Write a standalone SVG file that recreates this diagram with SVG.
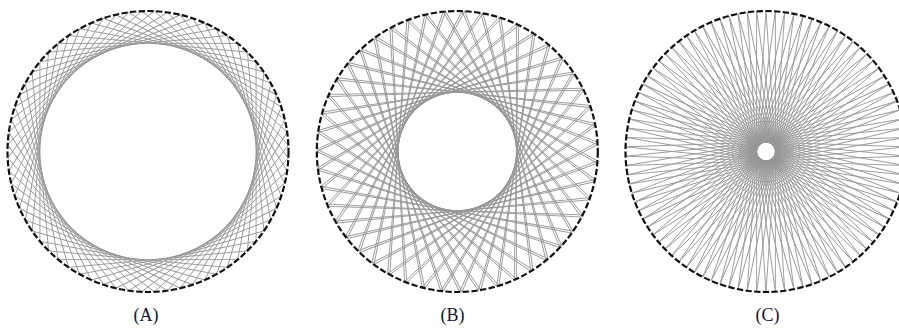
<svg xmlns="http://www.w3.org/2000/svg" width="899" height="329" viewBox="0 0 899 329">
<style>
.chord{stroke:#979797;stroke-width:0.9;fill:none}
.rim{fill:none;stroke:#111;stroke-width:2.2;stroke-dasharray:6.3 2.4}
.lbl{font-family:"Liberation Serif","Times New Roman",serif;font-size:18px;fill:#14142e;text-anchor:middle}
</style>
<defs>
<line id="chA" class="chord" x1="108.09" y1="-89.76" x2="108.09" y2="89.76"/>
<line id="chB" class="chord" x1="59.14" y1="-127.45" x2="59.14" y2="127.45"/>
<line id="chC" class="chord" x1="9.39" y1="-140.19" x2="9.39" y2="140.19"/>
<g id="fanA">
<use href="#chA"/>
<use href="#chA" transform="rotate(5.294)"/>
<use href="#chA" transform="rotate(10.588)"/>
<use href="#chA" transform="rotate(15.882)"/>
<use href="#chA" transform="rotate(21.176)"/>
<use href="#chA" transform="rotate(26.471)"/>
<use href="#chA" transform="rotate(31.765)"/>
<use href="#chA" transform="rotate(37.059)"/>
<use href="#chA" transform="rotate(42.353)"/>
<use href="#chA" transform="rotate(47.647)"/>
<use href="#chA" transform="rotate(52.941)"/>
<use href="#chA" transform="rotate(58.235)"/>
<use href="#chA" transform="rotate(63.529)"/>
<use href="#chA" transform="rotate(68.824)"/>
<use href="#chA" transform="rotate(74.118)"/>
<use href="#chA" transform="rotate(79.412)"/>
<use href="#chA" transform="rotate(84.706)"/>
</g>
<g id="setB">
<use href="#chB"/>
<use href="#chB" transform="rotate(7.660)"/>
<use href="#chB" transform="rotate(15.319)"/>
<use href="#chB" transform="rotate(22.979)"/>
<use href="#chB" transform="rotate(30.638)"/>
<use href="#chB" transform="rotate(38.298)"/>
<use href="#chB" transform="rotate(45.957)"/>
<use href="#chB" transform="rotate(53.617)"/>
<use href="#chB" transform="rotate(61.277)"/>
<use href="#chB" transform="rotate(68.936)"/>
<use href="#chB" transform="rotate(76.596)"/>
<use href="#chB" transform="rotate(84.255)"/>
<use href="#chB" transform="rotate(91.915)"/>
<use href="#chB" transform="rotate(99.574)"/>
<use href="#chB" transform="rotate(107.234)"/>
<use href="#chB" transform="rotate(114.894)"/>
<use href="#chB" transform="rotate(122.553)"/>
<use href="#chB" transform="rotate(130.213)"/>
<use href="#chB" transform="rotate(137.872)"/>
<use href="#chB" transform="rotate(145.532)"/>
<use href="#chB" transform="rotate(153.191)"/>
<use href="#chB" transform="rotate(160.851)"/>
<use href="#chB" transform="rotate(168.511)"/>
<use href="#chB" transform="rotate(176.170)"/>
<use href="#chB" transform="rotate(183.830)"/>
<use href="#chB" transform="rotate(191.489)"/>
<use href="#chB" transform="rotate(199.149)"/>
<use href="#chB" transform="rotate(206.809)"/>
<use href="#chB" transform="rotate(214.468)"/>
<use href="#chB" transform="rotate(222.128)"/>
<use href="#chB" transform="rotate(229.787)"/>
<use href="#chB" transform="rotate(237.447)"/>
<use href="#chB" transform="rotate(245.106)"/>
<use href="#chB" transform="rotate(252.766)"/>
<use href="#chB" transform="rotate(260.426)"/>
<use href="#chB" transform="rotate(268.085)"/>
<use href="#chB" transform="rotate(275.745)"/>
<use href="#chB" transform="rotate(283.404)"/>
<use href="#chB" transform="rotate(291.064)"/>
<use href="#chB" transform="rotate(298.723)"/>
<use href="#chB" transform="rotate(306.383)"/>
<use href="#chB" transform="rotate(314.043)"/>
<use href="#chB" transform="rotate(321.702)"/>
<use href="#chB" transform="rotate(329.362)"/>
<use href="#chB" transform="rotate(337.021)"/>
<use href="#chB" transform="rotate(344.681)"/>
<use href="#chB" transform="rotate(352.340)"/>
</g>
<g id="halfC">
<use href="#chC"/>
<use href="#chC" transform="rotate(3.830)"/>
<use href="#chC" transform="rotate(7.660)"/>
<use href="#chC" transform="rotate(11.489)"/>
<use href="#chC" transform="rotate(15.319)"/>
<use href="#chC" transform="rotate(19.149)"/>
<use href="#chC" transform="rotate(22.979)"/>
<use href="#chC" transform="rotate(26.809)"/>
<use href="#chC" transform="rotate(30.638)"/>
<use href="#chC" transform="rotate(34.468)"/>
<use href="#chC" transform="rotate(38.298)"/>
<use href="#chC" transform="rotate(42.128)"/>
<use href="#chC" transform="rotate(45.957)"/>
<use href="#chC" transform="rotate(49.787)"/>
<use href="#chC" transform="rotate(53.617)"/>
<use href="#chC" transform="rotate(57.447)"/>
<use href="#chC" transform="rotate(61.277)"/>
<use href="#chC" transform="rotate(65.106)"/>
<use href="#chC" transform="rotate(68.936)"/>
<use href="#chC" transform="rotate(72.766)"/>
<use href="#chC" transform="rotate(76.596)"/>
<use href="#chC" transform="rotate(80.426)"/>
<use href="#chC" transform="rotate(84.255)"/>
<use href="#chC" transform="rotate(88.085)"/>
<use href="#chC" transform="rotate(91.915)"/>
<use href="#chC" transform="rotate(95.745)"/>
<use href="#chC" transform="rotate(99.574)"/>
<use href="#chC" transform="rotate(103.404)"/>
<use href="#chC" transform="rotate(107.234)"/>
<use href="#chC" transform="rotate(111.064)"/>
<use href="#chC" transform="rotate(114.894)"/>
<use href="#chC" transform="rotate(118.723)"/>
<use href="#chC" transform="rotate(122.553)"/>
<use href="#chC" transform="rotate(126.383)"/>
<use href="#chC" transform="rotate(130.213)"/>
<use href="#chC" transform="rotate(134.043)"/>
<use href="#chC" transform="rotate(137.872)"/>
<use href="#chC" transform="rotate(141.702)"/>
<use href="#chC" transform="rotate(145.532)"/>
<use href="#chC" transform="rotate(149.362)"/>
<use href="#chC" transform="rotate(153.191)"/>
<use href="#chC" transform="rotate(157.021)"/>
<use href="#chC" transform="rotate(160.851)"/>
<use href="#chC" transform="rotate(164.681)"/>
<use href="#chC" transform="rotate(168.511)"/>
<use href="#chC" transform="rotate(172.340)"/>
<use href="#chC" transform="rotate(176.170)"/>
</g>
</defs>
<g id="panelA" transform="translate(148,151.5)">
<g id="chordsA">
<use href="#fanA"/>
<use href="#fanA" transform="rotate(90)"/>
<use href="#fanA" transform="rotate(180)"/>
<use href="#fanA" transform="rotate(270)"/>
</g>
<circle class="rim" r="140.5"/>
</g>
<g id="panelB" transform="translate(457.3,151.5)">
<g id="chordsB">
<use href="#setB"/>
<use href="#setB" transform="rotate(1)"/>
</g>
<circle class="rim" r="140.5"/>
</g>
<g id="panelC" transform="translate(766,151.5)">
<g id="chordsC">
<use href="#halfC"/>
<use href="#halfC" transform="rotate(180)"/>
</g>
<circle class="rim" r="140.5"/>
</g>
<g id="labels">
<text class="lbl" x="146" y="321">(A)</text>
<text class="lbl" x="452.5" y="321">(B)</text>
<text class="lbl" x="767.5" y="321">(C)</text>
</g>
</svg>
